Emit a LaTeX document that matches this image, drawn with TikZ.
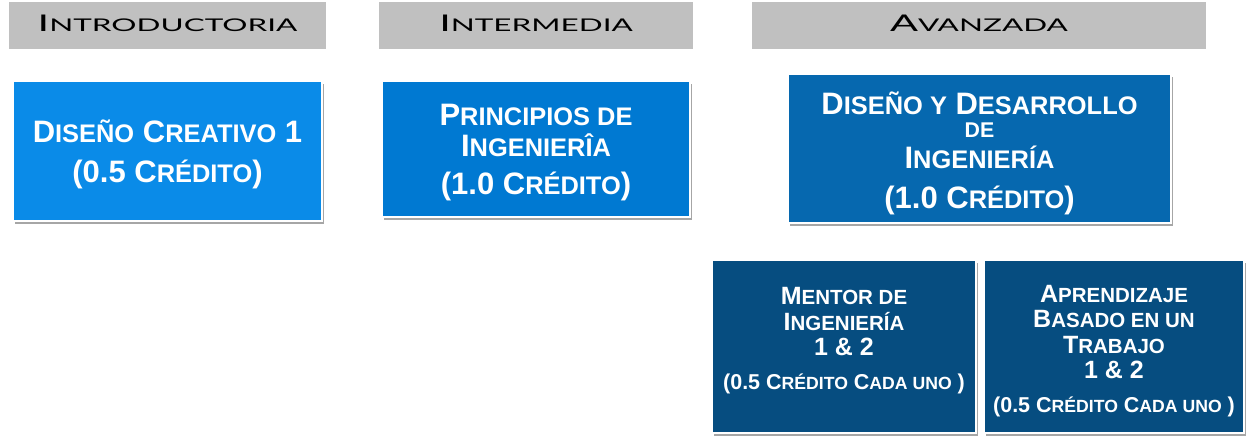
\documentclass[tikz,border=0pt]{standalone}
\usepackage{fontspec}
\usepackage{graphicx}
\setmainfont{Liberation Sans}
\newfontfamily\headfont{Lato}
\usetikzlibrary{shadows}
\definecolor{headgray}{HTML}{C0C0C0}
\definecolor{introblue}{HTML}{0A8BE8}
\definecolor{interblue}{HTML}{0079D2}
\definecolor{advblue}{HTML}{0668AF}
\definecolor{deepblue}{HTML}{064D80}
\newcommand{\smc}[1]{\scalebox{0.82}{\MakeUppercase{#1}}}
\newcommand{\lvl}[2]{\scalebox{1.8}[1]{#1\scalebox{0.76}{\MakeUppercase{#2}}}}

\begin{document}
\begin{tikzpicture}[x=1pt,y=-1pt,
    head/.style={fill=headgray,minimum height=47pt,inner sep=0pt,text height=16.5pt,text depth=5pt,
      font=\headfont\fontsize{23}{26}\selectfont},
    course/.style={draw=gray!35,double=white,double distance=1.5pt,line width=0.4pt,
      text=white,align=center,inner sep=0pt,
      font=\bfseries\fontsize{31}{31}\selectfont,
      drop shadow={shadow xshift=1.5pt,shadow yshift=-3pt,opacity=0.35,fill=black}},
    small course/.style={course,font=\bfseries\fontsize{25}{25.5}\selectfont}]
    \useasboundingbox (0,0) rectangle (1247,437);
    % levels
    \node[head,minimum width=317pt] (intro) at (167.5,25.5) {\lvl{I}{ntroductoria}};
    \node[head,minimum width=314pt] (inter) at (536,25.5) {\lvl{I}{ntermedia}};
    \node[head,minimum width=454pt] (adv) at (979,25.5) {\lvl{A}{vanzada}};
    % courses
    \node[course,fill=introblue,minimum width=309pt,minimum height=140pt] (dc) at (167.5,151)
        {\rule{0pt}{30pt}D\smc{iseño} C\smc{reativo} 1\\[9pt] (0.5 C\smc{rédito})};
    \node[course,fill=interblue,minimum width=308pt,minimum height=136pt] (pi) at (536,149)
        {\rule{0pt}{28pt}P\smc{rincipios de}\\ I\smc{ngenierîa}\\[7pt] (1.0 C\smc{rédito})};
    \node[course,fill=advblue,minimum width=383pt,minimum height=149pt] (dd) at (979.5,148.5)
        {\rule{0pt}{32pt}D\smc{iseño y} D\smc{esarrollo}\\[-8pt] {\fontsize{26}{26}\selectfont\smc{de}}\\ I\smc{ngeniería}\\[9pt] (1.0 C\smc{rédito})};
    \node[small course,fill=deepblue,minimum width=264pt,minimum height=173pt] (mi) at (844,346.5)
        {M\smc{entor de}\\ I\smc{ngeniería}\\ 1 \& 2\\[8pt] {\fontsize{21.5}{24}\selectfont (0.5 C\smc{rédito} C\smc{ada uno} )\rule[-16.5pt]{0pt}{16.5pt}}};
    \node[small course,fill=deepblue,minimum width=260pt,minimum height=173pt] (ab) at (1114,346.5)
        {\rule{0pt}{26pt}A\smc{prendizaje}\\ B\smc{asado en un}\\ T\smc{rabajo}\\ 1 \& 2\\[8pt] {\fontsize{21.5}{24}\selectfont (0.5 C\smc{rédito} C\smc{ada uno} )}};
\end{tikzpicture}
\end{document}
